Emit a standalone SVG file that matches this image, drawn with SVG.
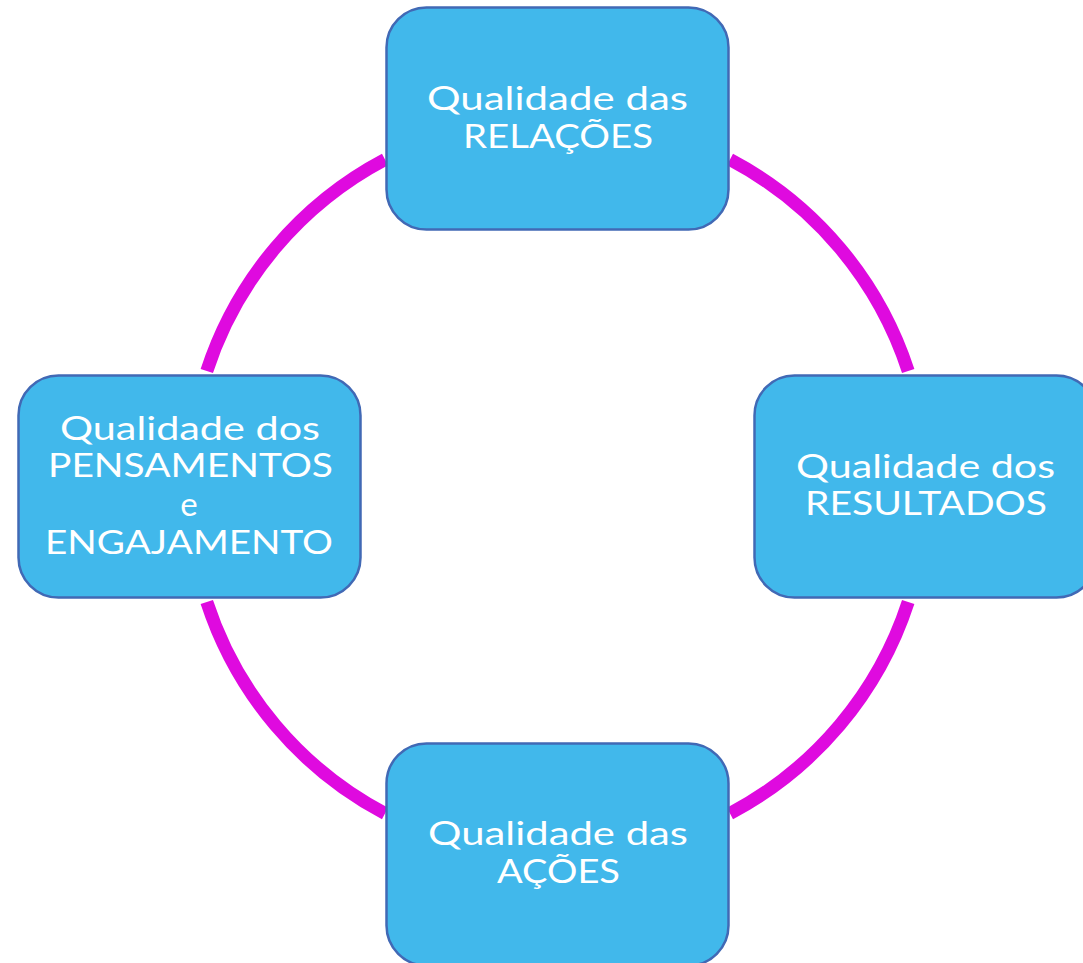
<svg xmlns="http://www.w3.org/2000/svg" width="1083" height="963" viewBox="0 0 1083 963">
<style>
.box{fill:#41B8EB;stroke:#4169B5;stroke-width:2.5}
.arc{fill:none;stroke:#DF0ADF;stroke-width:13;stroke-linecap:butt}
.t{font-family:"Lato","Liberation Sans",sans-serif;font-size:33px;fill:#FFFFFF;text-anchor:middle}
</style>
<rect width="1083" height="963" fill="#FFFFFF"/>
<g id="connectors">
<path class="arc" d="M206.8,371 A368,368 0 0 1 385,159.5"/>
<path class="arc" d="M730,159.5 A368,368 0 0 1 908.2,371"/>
<path class="arc" d="M908.2,602 A368,368 0 0 1 730,813.5"/>
<path class="arc" d="M385,813.5 A368,368 0 0 1 206.8,602"/>
</g>
<g id="node-relacoes">
<rect class="box" x="386.5" y="7.5" width="342" height="222" rx="40"/>
<text class="t" x="557.5" y="110" textLength="261" lengthAdjust="spacingAndGlyphs">Qualidade das</text>
<text class="t" x="558" y="148" textLength="190" lengthAdjust="spacingAndGlyphs">RELAÇÕES</text>
</g>
<g id="node-resultados">
<rect class="box" x="754.5" y="375.5" width="342" height="222" rx="40"/>
<text class="t" x="925.5" y="478" textLength="259" lengthAdjust="spacingAndGlyphs">Qualidade dos</text>
<text class="t" x="926" y="515" textLength="242" lengthAdjust="spacingAndGlyphs">RESULTADOS</text>
</g>
<g id="node-pensamentos">
<rect class="box" x="18.5" y="375.5" width="342" height="222" rx="40"/>
<text class="t" x="190" y="440" textLength="260" lengthAdjust="spacingAndGlyphs">Qualidade dos</text>
<text class="t" x="190.5" y="477" textLength="285" lengthAdjust="spacingAndGlyphs">PENSAMENTOS</text>
<text class="t" x="189" y="516">e</text>
<text class="t" x="189" y="554" textLength="288" lengthAdjust="spacingAndGlyphs">ENGAJAMENTO</text>
</g>
<g id="node-acoes">
<rect class="box" x="386.5" y="743.5" width="342" height="222" rx="40"/>
<text class="t" x="558" y="845" textLength="260" lengthAdjust="spacingAndGlyphs">Qualidade das</text>
<text class="t" x="558.5" y="883" textLength="123" lengthAdjust="spacingAndGlyphs">AÇÕES</text>
</g>
</svg>
